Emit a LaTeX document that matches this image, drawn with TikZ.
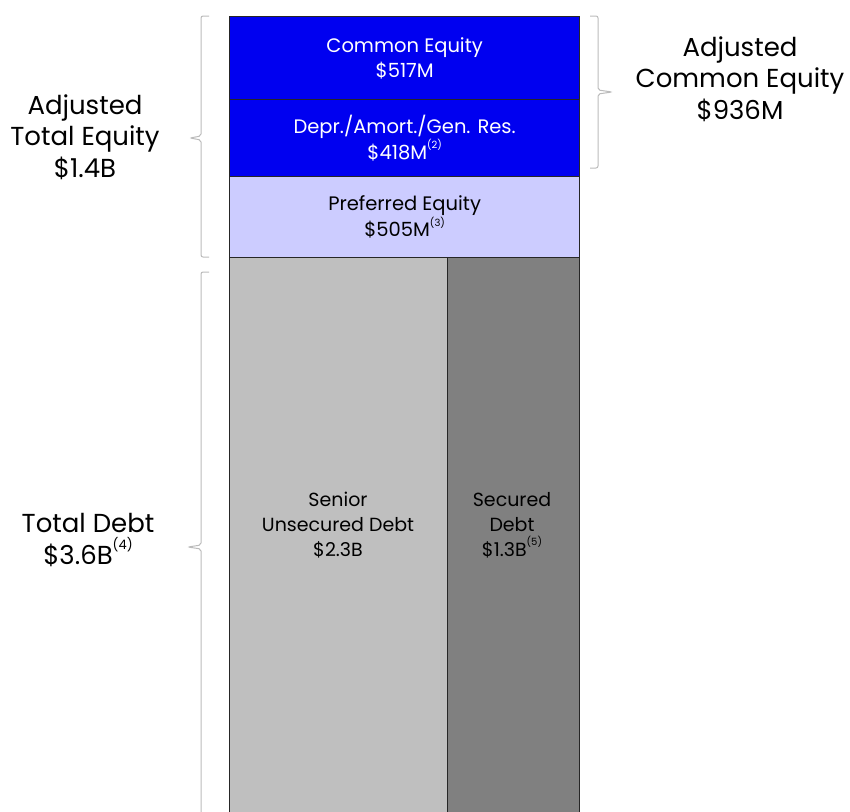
\documentclass[tikz,border=0pt]{standalone}
\usepackage{fontspec}
\setmainfont{Poppins}
\usetikzlibrary{positioning}

\definecolor{eqblue}{HTML}{0000F0}
\definecolor{prefblue}{HTML}{CCCCFF}
\definecolor{seniorgray}{HTML}{BFBFBF}
\definecolor{securedgray}{HTML}{808080}
\definecolor{bracegray}{HTML}{BBBBBB}

\newcommand*{\colLeft}{229}
\newcommand*{\colSplit}{447}
\newcommand*{\colRight}{579}
\newcommand*{\supnote}[1]{\raisebox{0.55em}{\fontsize{10}{10}\selectfont(#1)}}
\newcommand*{\supbig}[1]{\raisebox{0.55em}{\fontsize{13}{13}\selectfont(#1)}}

\tikzset{
    block/.style={draw=black!85, line width=1.3pt, anchor=north west, inner sep=0pt,
        align=center, font=\fontsize{19.5}{25}\selectfont},
    blocktext/.style={align=center, font=\fontsize{19}{25}\selectfont},
    sidelabel/.style={align=center, font=\fontsize{26}{31.5}\selectfont},
    bracket/.style={draw=bracegray, line width=1pt, rounded corners=2pt}
}

\begin{document}
\begin{tikzpicture}[x=1pt, y=-1pt]
        \useasboundingbox (0,0) rectangle (850,811);
        % equity blocks
        \node [block, fill=eqblue, text=white, minimum width=350pt, minimum height=83pt] (common) at (\colLeft,16)
            {Common Equity\\\$517M};
        \node [block, fill=eqblue, text=white, minimum width=350pt, minimum height=77pt] (depr) at (\colLeft,99)
            {Depr./Amort./Gen. Res.\\\$418M\supnote{2}};
        \node [block, fill=prefblue, minimum width=350pt, minimum height=81pt] (pref) at (\colLeft,176)
            {Preferred Equity\\\$505M\supnote{3}};
        % debt blocks
        \node [block, fill=seniorgray, minimum width=218pt, minimum height=565pt] (senior) at (\colLeft,257) {};
        \node [block, fill=securedgray, minimum width=132pt, minimum height=565pt] (secured) at (\colSplit,257) {};
        \node [blocktext] (seniortext) at (338,525) {Senior\\Unsecured Debt\\\$2.3B};
        \node [blocktext] (securedtext) at (512,525) {Secured\\Debt\\\$1.3B\supnote{5}};
        % side labels
        \node [sidelabel] (totaleq) at (85,137) {Adjusted\\Total Equity\\\$1.4B};
        \node [sidelabel] (commoneq) at (740,79) {Adjusted\\Common Equity\\\$936M};
        \node [sidelabel] (totaldebt) at (88,540) {Total Debt\\\$3.6B\supbig{4}};
        % brackets
        \draw [bracket] (209,16) -- (201,16) -- (201,136) -- (190,138) -- (201,140) -- (201,257) -- (209,257);
        \draw [bracket] (209,272) -- (201,272) -- (201,545) -- (188,547) -- (201,549) -- (201,830);
        \draw [bracket] (590,16) -- (598,16) -- (598,90) -- (612,92) -- (598,94) -- (598,168) -- (590,168);
    \end{tikzpicture}
\end{document}
